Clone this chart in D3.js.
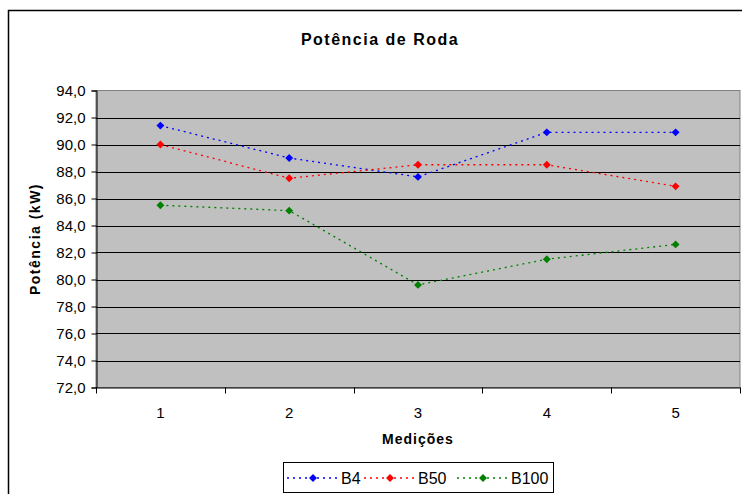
<!DOCTYPE html>
<html>
<head>
<meta charset="utf-8">
<script src="https://cdn.jsdelivr.net/npm/d3@7"></script>
<style>
  body { margin: 0; background: #fff; }
  text { font-family: "Liberation Sans", Arial, sans-serif; }
</style>
</head>
<body>
<svg id="mainSvg" width="742" height="494"></svg>
<script>
// chart values
let medicoes = ["1", "2", "3", "4", "5"];
let serieNames = ["B4", "B50", "B100"];
let b4 = [91.4, 89.0, 87.6, 90.9, 90.9];
let b50 = [90.0, 87.5, 88.5, 88.5, 86.9];
let b100 = [85.5, 85.1, 79.6, 81.5, 82.6];
let yTicks = [72, 74, 76, 78, 80, 82, 84, 86, 88, 90, 92, 94];
let colors = ["#0000ff", "#ff0000", "#008000"];

let width;
let height;
let plot = {left: 96, right: 740, top: 90.5, bottom: 387.5};

function initMainSvg() {
    let canvas = d3.select("#mainSvg");
    width = parseInt(canvas.attr("width"));
    height = parseInt(canvas.attr("height"));

    // outer chart border (cut by the window at right and bottom)
    canvas.append("rect")
        .attr("x", 8.5).attr("y", 10.5)
        .attr("width", 900).attr("height", 700)
        .attr("fill", "#fff")
        .attr("stroke", "#000").attr("stroke-width", 1.5);

    let x = d3.scaleBand().domain(medicoes).range([plot.left, plot.right]);
    let y = d3.scaleLinear().domain([72, 94]).range([plot.bottom, plot.top]);

    // plot area
    canvas.append("rect")
        .attr("x", plot.left).attr("y", plot.top)
        .attr("width", plot.right - plot.left).attr("height", plot.bottom - plot.top)
        .attr("fill", "#c0c0c0")
        .attr("stroke", "#808080");

    // gridlines
    canvas.append("g").selectAll("line")
        .data(yTicks.filter(d => d > 72 && d < 94))
        .enter()
            .append("line")
            .attr("x1", plot.left).attr("x2", plot.right)
            .attr("y1", d => Math.round(y(d)) + 0.5)
            .attr("y2", d => Math.round(y(d)) + 0.5)
            .attr("stroke", "#000").attr("stroke-width", 1);

    // y axis
    let yAxis = d3.axisLeft(y)
        .tickValues(yTicks)
        .tickSize(5)
        .tickPadding(6)
        .tickFormat(d => d3.format(".1f")(d).replace(".", ","));
    let gy = canvas.append("g")
        .attr("transform", "translate(" + (plot.left + 0.5) + ",0)")
        .call(yAxis);
    gy.selectAll("text").attr("font-size", 15).attr("fill", "#000")
        .style("font-family", "'Liberation Sans', Arial, sans-serif");
    gy.select(".domain").attr("stroke", "#000");

    // x axis: ticks between categories
    let gx = canvas.append("g")
        .attr("transform", "translate(0," + (plot.bottom) + ")");
    gx.append("line")
        .attr("x1", plot.left).attr("x2", plot.right)
        .attr("y1", 0.5).attr("y2", 0.5)
        .attr("stroke", "#000");
    let bounds = medicoes.map(d => x(d)).concat([plot.right]);
    gx.selectAll(".tk")
        .data(bounds)
        .enter()
            .append("line")
            .attr("class", "tk")
            .attr("x1", d => Math.round(d) + 0.5).attr("x2", d => Math.round(d) + 0.5)
            .attr("y1", 0).attr("y2", 6)
            .attr("stroke", "#000");
    gx.selectAll(".lbl")
        .data(medicoes)
        .enter()
            .append("text")
            .attr("class", "lbl")
            .attr("x", d => x(d) + x.bandwidth() / 2)
            .attr("y", 30)
            .attr("text-anchor", "middle")
            .attr("font-size", 15)
            .text(d => d);

    // titles
    canvas.append("text")
        .attr("x", 380).attr("y", 45)
        .attr("text-anchor", "middle")
        .attr("font-size", 16).attr("font-weight", "bold")
        .attr("letter-spacing", 1.5)
        .text("Potência de Roda");
    canvas.append("text")
        .attr("x", (plot.left + plot.right) / 2).attr("y", 444)
        .attr("text-anchor", "middle")
        .attr("font-size", 14).attr("font-weight", "bold")
        .attr("letter-spacing", 1)
        .text("Medições");
    canvas.append("text")
        .attr("transform", "translate(40," + ((plot.top + plot.bottom) / 2) + ") rotate(-90)")
        .attr("text-anchor", "middle")
        .attr("font-size", 14).attr("font-weight", "bold")
        .attr("letter-spacing", 1.5)
        .text("Potência (kW)");

    drawSeries(canvas, x, y);
    drawLegend(canvas);
}

function drawSeries(canvas, x, y) {
    let all = [b4, b50, b100];
    let line = d3.line()
        .x((d, i) => x(medicoes[i]) + x.bandwidth() / 2)
        .y(d => y(d));
    let diamond = d3.symbol().type(d3.symbolDiamond2).size(40);

    all.forEach((vals, k) => {
        let g = canvas.append("g");
        g.append("path")
            .attr("d", line(vals))
            .attr("fill", "none")
            .attr("stroke", colors[k])
            .attr("stroke-width", 1.3)
            .attr("stroke-dasharray", "2,4");
        g.selectAll("path.mk")
            .data(vals)
            .enter()
                .append("path")
                .attr("class", "mk")
                .attr("d", diamond)
                .attr("transform", (d, i) => "translate(" + (x(medicoes[i]) + x.bandwidth() / 2) + "," + y(d) + ")")
                .attr("fill", colors[k]);
    });
}

function drawLegend(canvas) {
    let lg = canvas.append("g");
    lg.append("rect")
        .attr("x", 283.5).attr("y", 462.5)
        .attr("width", 270).attr("height", 30)
        .attr("fill", "#fff")
        .attr("stroke", "#000");
    let xs = [285, 362, 455];
    let diamond = d3.symbol().type(d3.symbolDiamond2).size(40);
    serieNames.forEach((name, k) => {
        lg.append("line")
            .attr("x1", xs[k] + 2).attr("x2", xs[k] + 52)
            .attr("y1", 478).attr("y2", 478)
            .attr("stroke", colors[k])
            .attr("stroke-width", 1.3)
            .attr("stroke-dasharray", "2,4");
        lg.append("path")
            .attr("d", diamond)
            .attr("transform", "translate(" + (xs[k] + 28) + ",478)")
            .attr("fill", colors[k]);
        lg.append("text")
            .attr("x", xs[k] + 56).attr("y", 484)
            .attr("font-size", 16)
            .text(name);
    });
}

initMainSvg();
</script>
</body>
</html>
